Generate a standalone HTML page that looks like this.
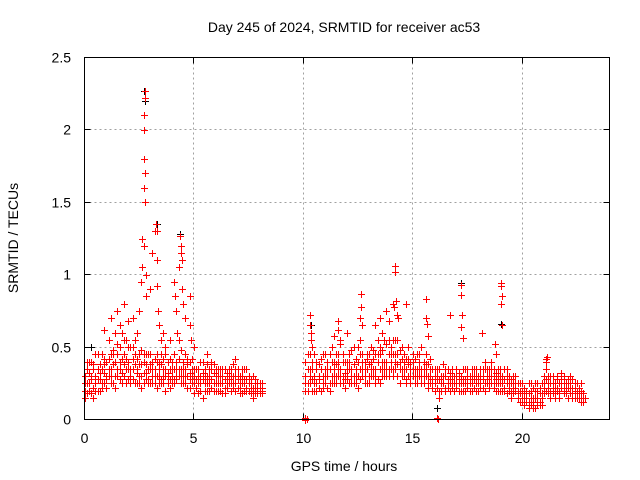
<!DOCTYPE html>
<html><head><meta charset="utf-8"><style>
html,body{margin:0;padding:0;background:#fff}
svg{display:block;font-family:"Liberation Sans",sans-serif}
</style></head><body>
<svg id="chart" width="640" height="480" viewBox="0 0 640 480">
<rect x="0" y="0" width="640" height="480" fill="#fff"/>
<text x="344" y="32" font-size="14" text-anchor="middle">Day 245 of 2024, SRMTID for receiver ac53</text>
<text x="344" y="471" font-size="14" text-anchor="middle">GPS time / hours</text>
<text x="18" y="238" font-size="14" text-anchor="middle" transform="rotate(-90 18 238)">SRMTID / TECUs</text>
<g id="grid"></g>
<g id="axes"></g>
<g id="marks" shape-rendering="crispEdges"></g>
<rect x="84.5" y="57.5" width="525" height="362" fill="none" stroke="#000" stroke-width="1"/>
</svg>
<script>
const xTicks=[0,5,10,15,20];
const yTicks=[0,0.5,1,1.5,2,2.5];
const yTickLabels=["0","0.5","1","1.5","2","2.5"];
const tA=[0.0,0.1,0.2,0.3,0.4,0.5,0.6,0.7,0.8,0.9,1.0,1.1,1.2,1.3,1.4,1.5,1.6,1.7,1.8,1.9,2.0,2.1,2.2,2.3,2.4,2.5,2.6,2.7,2.8,2.9,3.0,3.1,3.2,3.3,3.4,3.5,3.6,3.7,3.8,3.9,4.0,4.1,4.2,4.3,4.4,4.5,4.6,4.7,4.8,4.9,5.0,5.1,5.2,5.3,5.4,5.5,5.6,5.7,5.8,5.9,6.0,6.1,6.2,6.3,6.4,6.5,6.6,6.7,6.8,6.9,7.0,7.1,7.2,7.3,7.4,7.5,7.6,7.7,7.8,7.9,8.0,8.1];
const vA1=[0.20,0.35,0.25,0.40,0.22,0.30,0.45,0.28,0.35,0.25,0.40,0.55,0.30,0.48,0.60,0.35,0.50,0.42,0.30,0.55,0.40,0.30,0.50,0.38,0.25,0.45,0.30,0.40,0.28,0.35,0.45,0.30,0.25,0.40,0.35,0.28,0.42,0.30,0.25,0.35,0.30,0.45,0.40,0.55,0.35,0.30,0.45,0.38,0.28,0.35,0.30,0.22,0.35,0.25,0.40,0.30,0.20,0.35,0.28,0.32,0.25,0.30,0.20,0.35,0.28,0.22,0.30,0.25,0.38,0.30,0.35,0.25,0.30,0.20,0.28,0.25,0.22,0.30,0.18,0.25,0.20,0.22];
const vA2=[0.15,0.25,0.40,0.18,0.35,0.45,0.20,0.38,0.25,0.42,0.30,0.35,0.45,0.25,0.40,0.52,0.28,0.60,0.45,0.35,0.28,0.50,0.35,0.25,0.42,0.30,0.48,0.25,0.38,0.45,0.25,0.40,0.35,0.22,0.30,0.45,0.25,0.35,0.40,0.28,0.40,0.25,0.30,0.35,0.48,0.25,0.30,0.22,0.40,0.25,0.18,0.35,0.25,0.30,0.15,0.25,0.38,0.20,0.35,0.25,0.30,0.20,0.35,0.25,0.18,0.32,0.25,0.20,0.30,0.35,0.22,0.30,0.18,0.28,0.35,0.20,0.28,0.15,0.25,0.20,0.18,0.25];
const vA3=[0.30,0.18,0.32,0.28,0.15,0.25,0.35,0.20,0.45,0.32,0.22,0.42,0.25,0.38,0.30,0.45,0.35,0.25,0.55,0.42,0.35,0.25,0.42,0.55,0.32,0.38,0.22,0.32,0.45,0.25,0.35,0.25,0.42,0.30,0.25,0.38,0.30,0.20,0.32,0.42,0.25,0.35,0.28,0.42,0.30,0.40,0.35,0.30,0.22,0.42,0.25,0.35,0.18,0.40,0.28,0.20,0.30,0.25,0.22,0.38,0.35,0.25,0.30,0.18,0.35,0.25,0.28,0.35,0.22,0.25,0.28,0.18,0.35,0.25,0.20,0.30,0.18,0.22,0.28,0.22,0.25,0.18];
const vA4=[0.25,0.40,0.20,0.30,0.38,0.20,0.28,0.32,0.22,0.38,0.28,0.30,0.35,0.45,0.22,0.30,0.40,0.32,0.38,0.25,0.50,0.35,0.28,0.45,0.35,0.25,0.38,0.45,0.32,0.28,0.38,0.35,0.30,0.45,0.40,0.25,0.35,0.45,0.30,0.22,0.35,0.28,0.35,0.30,0.25,0.35,0.25,0.42,0.32,0.30,0.35,0.28,0.30,0.20,0.32,0.35,0.25,0.30,0.40,0.20,0.20,0.35,0.25,0.30,0.22,0.28,0.35,0.30,0.25,0.20,0.30,0.22,0.25,0.35,0.22,0.28,0.25,0.20,0.22,0.18,0.22,0.20];
const tSA=[0.9,1.2,1.5,1.6,1.8,2.0,2.2,2.4,2.5,2.6,2.65,2.65,2.7,2.7,2.7,2.72,2.72,2.75,2.75,2.75,2.78,2.8,2.8,3.0,3.1,3.2,3.25,3.3,3.3,3.3,3.35,3.4,3.5,3.6,4.1,4.15,4.2,4.25,4.3,4.35,4.4,4.4,4.45,4.45,4.5,4.6,4.8,4.8,4.85,5.6,6.9,5.0,3.7,3.9];
const vSA=[0.62,0.70,0.75,0.65,0.80,0.68,0.70,0.60,0.75,0.95,1.05,1.25,1.20,1.60,1.80,2.00,2.10,2.22,2.27,1.70,1.50,1.00,0.85,0.90,1.15,1.30,1.35,1.30,1.10,0.92,0.75,0.65,0.55,0.60,0.95,0.85,0.75,0.60,1.05,1.27,1.20,1.15,1.10,0.90,0.80,0.70,0.85,0.65,0.55,0.45,0.42,0.50,0.50,0.55];
const tB=[10.1,10.2,10.3,10.4,10.5,10.6,10.7,10.8,10.9,11.0,11.1,11.2,11.3,11.4,11.5,11.6,11.7,11.8,11.9,12.0,12.1,12.2,12.3,12.4,12.5,12.6,12.7,12.8,12.9,13.0,13.1,13.2,13.3,13.4,13.5,13.6,13.7,13.8,13.9,14.0,14.1,14.2,14.3,14.4,14.5,14.6,14.7,14.8,14.9,15.0,15.1,15.2,15.3,15.4,15.5,15.6,15.7,15.8,15.9,16.0,16.1,16.2,16.3,16.4,16.5,16.6,16.7,16.8,16.9,17.0,17.1,17.2,17.3,17.4,17.5,17.6,17.7,17.8,17.9,18.0,18.1,18.2,18.3,18.4,18.5,18.6,18.7,18.8,18.9,19.0,19.1,19.2,19.3,19.4,19.5,19.6,19.7,19.8,19.9,20.0,20.1,20.2,20.3,20.4,20.5,20.6,20.7,20.8,20.9,21.0,21.1,21.2,21.3,21.4,21.5,21.6,21.7,21.8,21.9,22.0,22.1,22.2,22.3,22.4,22.5,22.6,22.7,22.8,22.9];
const vB1=[0.30,0.45,0.25,0.35,0.20,0.40,0.28,0.35,0.45,0.30,0.40,0.25,0.50,0.35,0.45,0.30,0.52,0.40,0.28,0.35,0.45,0.30,0.50,0.25,0.40,0.55,0.35,0.30,0.45,0.38,0.50,0.30,0.45,0.55,0.35,0.48,0.40,0.52,0.45,0.50,0.45,0.40,0.55,0.35,0.30,0.45,0.25,0.38,0.30,0.40,0.30,0.45,0.35,0.50,0.40,0.30,0.25,0.35,0.28,0.30,0.22,0.35,0.25,0.30,0.20,0.35,0.28,0.22,0.30,0.25,0.32,0.20,0.35,0.28,0.25,0.30,0.20,0.35,0.25,0.30,0.25,0.35,0.40,0.28,0.35,0.30,0.25,0.32,0.20,0.25,0.30,0.22,0.35,0.20,0.28,0.18,0.30,0.25,0.20,0.15,0.10,0.20,0.12,0.25,0.15,0.08,0.20,0.12,0.18,0.30,0.20,0.25,0.15,0.22,0.18,0.28,0.20,0.25,0.30,0.20,0.25,0.30,0.18,0.22,0.15,0.20,0.12,0.18,0.15];
const vB2=[0.40,0.25,0.35,0.20,0.45,0.25,0.38,0.20,0.30,0.45,0.22,0.35,0.30,0.25,0.38,0.45,0.30,0.25,0.40,0.28,0.35,0.48,0.25,0.42,0.30,0.35,0.45,0.40,0.25,0.45,0.30,0.42,0.35,0.28,0.50,0.30,0.55,0.35,0.30,0.40,0.35,0.55,0.30,0.48,0.42,0.30,0.35,0.50,0.40,0.30,0.42,0.25,0.45,0.30,0.35,0.45,0.38,0.25,0.35,0.25,0.35,0.28,0.20,0.38,0.30,0.25,0.32,0.35,0.20,0.35,0.20,0.30,0.25,0.20,0.35,0.25,0.30,0.22,0.30,0.20,0.35,0.28,0.25,0.35,0.22,0.40,0.30,0.25,0.30,0.35,0.20,0.28,0.25,0.30,0.15,0.25,0.22,0.15,0.25,0.20,0.18,0.12,0.25,0.10,0.22,0.15,0.25,0.18,0.10,0.22,0.35,0.18,0.25,0.30,0.15,0.20,0.25,0.32,0.18,0.25,0.15,0.22,0.28,0.15,0.25,0.18,0.20,0.12];
const vB3=[0.20,0.35,0.45,0.28,0.30,0.35,0.22,0.42,0.25,0.35,0.30,0.45,0.25,0.40,0.30,0.35,0.25,0.45,0.32,0.40,0.25,0.35,0.38,0.30,0.50,0.28,0.40,0.35,0.42,0.30,0.35,0.48,0.25,0.40,0.45,0.35,0.30,0.40,0.55,0.45,0.55,0.35,0.45,0.40,0.50,0.35,0.42,0.30,0.35,0.45,0.35,0.30,0.40,0.35,0.25,0.38,0.30,0.42,0.22,0.35,0.28,0.20,0.30,0.25,0.35,0.22,0.25,0.30,0.25,0.30,0.28,0.25,0.20,0.35,0.22,0.28,0.35,0.30,0.20,0.25,0.30,0.22,0.35,0.30,0.25,0.35,0.22,0.28,0.35,0.20,0.25,0.35,0.18,0.22,0.25,0.30,0.20,0.18,0.12,0.25,0.15,0.18,0.08,0.20,0.12,0.20,0.15,0.10,0.25,0.25,0.28,0.22,0.30,0.18,0.25,0.22,0.15,0.28,0.22,0.18,0.22,0.25,0.15,0.20,0.18,0.22,0.15,0.18];
const vB4=[0.25,0.20,0.30,0.40,0.25,0.20,0.30,0.35,0.22,0.25,0.35,0.20,0.40,0.30,0.25,0.40,0.35,0.30,0.22,0.30,0.40,0.25,0.30,0.35,0.22,0.45,0.30,0.25,0.35,0.25,0.40,0.35,0.30,0.45,0.25,0.40,0.35,0.30,0.35,0.35,0.30,0.45,0.38,0.25,0.35,0.40,0.28,0.42,0.25,0.35,0.25,0.35,0.30,0.25,0.30,0.35,0.22,0.30,0.25,0.20,0.30,0.15,0.25,0.30,0.22,0.28,0.20,0.25,0.30,0.22,0.25,0.30,0.28,0.25,0.30,0.20,0.25,0.28,0.35,0.28,0.22,0.30,0.20,0.25,0.30,0.25,0.35,0.20,0.25,0.30,0.25,0.20,0.30,0.25,0.20,0.22,0.25,0.20,0.18,0.12,0.22,0.15,0.18,0.15,0.08,0.25,0.10,0.22,0.15,0.18,0.42,0.30,0.20,0.25,0.22,0.30,0.18,0.22,0.25,0.22,0.28,0.18,0.22,0.25,0.20,0.15,0.25,0.15];
const tSB=[10.1,10.1,10.1,10.15,10.3,10.3,10.35,10.35,10.4,11.4,11.6,11.6,11.7,12.0,12.6,12.65,12.65,12.7,13.3,13.5,13.6,13.8,13.9,14.1,14.15,14.2,14.2,14.25,14.3,14.35,14.7,15.6,15.6,15.65,15.7,16.7,17.2,17.2,17.25,17.2,17.3,18.15,18.75,18.8,19.05,19.05,19.1,19.05,19.1,16.1,16.15,21.1,21.15];
const vSB=[0.005,0.01,0.0,0.005,0.72,0.65,0.60,0.55,0.50,0.58,0.68,0.62,0.55,0.60,0.70,0.87,0.78,0.65,0.65,0.70,0.60,0.75,0.68,0.80,0.78,1.06,1.02,0.82,0.72,0.70,0.80,0.83,0.70,0.66,0.58,0.72,0.93,0.86,0.72,0.64,0.56,0.60,0.52,0.45,0.94,0.92,0.85,0.80,0.65,0.01,0.005,0.40,0.43];
const tBlack=[0.3,1.5,2.7,2.75,3.3,4.35,5.5,10.35,14.2,16.1,17.2,19.05];
const vBlack=[0.50,0.45,2.27,2.20,1.35,1.28,0.30,0.65,1.06,0.08,0.94,0.66];

const NS="http://www.w3.org/2000/svg";
const X0=84.5,X1=609.5,Y0=419.5,Y1=57.5,XMAX=24;
function xs(t){return X0+(t/XMAX)*(X1-X0);}
function ys(v){return Y0-(v/2.5)*(Y0-Y1);}
const grid=document.getElementById('grid'),axes=document.getElementById('axes'),marks=document.getElementById('marks');
function ln(p,x1,y1,x2,y2,st,dash){const l=document.createElementNS(NS,'line');l.setAttribute('x1',x1);l.setAttribute('y1',y1);l.setAttribute('x2',x2);l.setAttribute('y2',y2);l.setAttribute('stroke',st);l.setAttribute('stroke-width','1');if(dash)l.setAttribute('stroke-dasharray',dash);p.appendChild(l);return l;}
function tx(p,x,y,s,anchor){const t=document.createElementNS(NS,'text');t.setAttribute('x',x);t.setAttribute('y',y);t.setAttribute('font-size','14');t.setAttribute('text-anchor',anchor);t.textContent=s;p.appendChild(t);return t;}
xTicks.forEach(v=>{const x=Math.round(xs(v)-0.5)+0.5;
 if(v>0){const g=ln(grid,x,Y1,x,Y0,'#a0a0a0','2,3');
 
 }
 ln(axes,x,Y0,x,Y0-6,'#000');ln(axes,x,Y1,x,Y1+6,'#000');
 const t=tx(axes,x,443,String(v),'middle');
 
 });
yTicks.forEach((v,i)=>{const y=Math.round(ys(v)-0.5)+0.5;
 if(v>0&&v<2.5){const g=ln(grid,X0,y,X1,y,'#a0a0a0','2,3');
 
 }
 ln(axes,X0,y,X0+6,y,'#000');ln(axes,X1,y,X1-6,y,'#000');
 const t=tx(axes,71,y+5,yTickLabels[i],'end');
 
 });
function plus(t,v,col){const x=Math.round(xs(t))+0.5,y=Math.round(ys(v))+0.5;const p=document.createElementNS(NS,'path');
 p.setAttribute('d','M'+(x-3.5)+' '+y+'H'+(x+3.5)+'M'+x+' '+(y-3.5)+'V'+(y+3.5));
 p.setAttribute('stroke',col);p.setAttribute('stroke-width','1');p.setAttribute('fill','none');
 
 
 marks.appendChild(p);}
tBlack.forEach((t,i)=>plus(t,vBlack[i],'#000'));
[vA1,vA2,vA3,vA4].forEach(arr=>tA.forEach((t,i)=>plus(t,arr[i],'#ff0000')));
tSA.forEach((t,i)=>plus(t,vSA[i],'#ff0000'));
[vB1,vB2,vB3,vB4].forEach(arr=>tB.forEach((t,i)=>plus(t,arr[i],'#ff0000')));
tSB.forEach((t,i)=>plus(t,vSB[i],'#ff0000'));
</script>
</body></html>
